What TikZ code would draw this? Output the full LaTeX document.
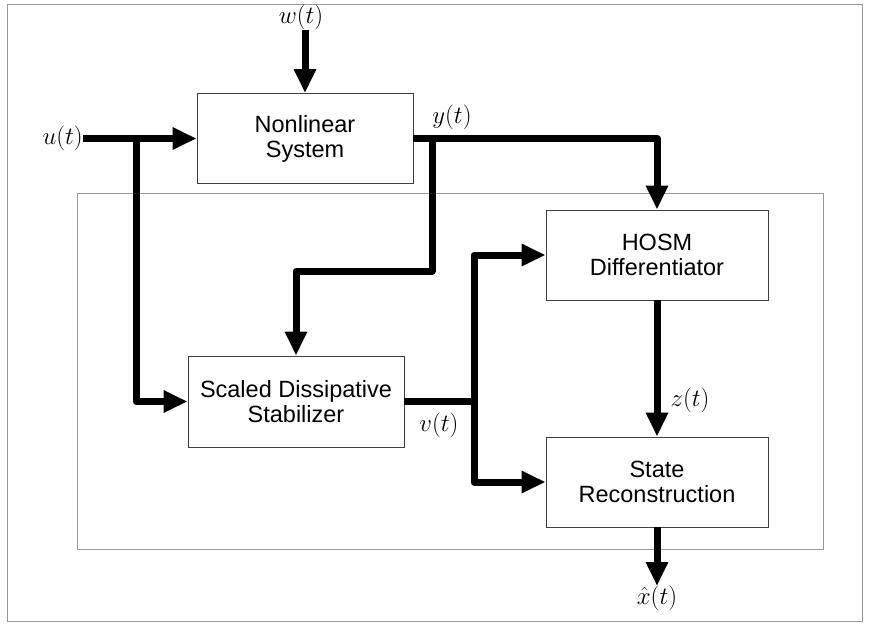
\documentclass[tikz,border=0pt]{standalone}
\usepackage{fontspec}
\setmainfont{Liberation Sans}
\usetikzlibrary{arrows.meta,positioning,calc}

\begin{document}
\begin{tikzpicture}[x=1pt,y=-1pt,>={Triangle[length=24pt,width=21pt]},
 blk/.style={draw=black!75,line width=0.9pt,align=center,minimum width=216pt,minimum height=90pt,font=\fontsize{23.5}{25}\selectfont,inner sep=0pt},
 sig/.style={line width=7pt,line join=round},
 lbl/.style={font=\fontsize{26}{28}\selectfont,inner sep=0pt}]
\useasboundingbox (0,0) rectangle (870,625);
\draw[black!40,line width=1pt] (7,4) rectangle (862,621);
\draw[black!40,line width=1pt] (77,193) rectangle (823,549);
\node[blk] (sys) at (305,138.5) {Nonlinear\\System};
\node[blk,minimum width=222pt] (hosm) at (657,255) {HOSM\\Differentiator};
\node[blk,minimum width=222pt] (rec) at (657,482) {State\\Reconstruction};
\node[blk,minimum height=91pt] (stab) at (296,401.5) {Scaled Dissipative\\Stabilizer};
\node[lbl,anchor=east] (u) at (83,138.5) {$u(t)$};
\node[lbl] (w) at (301,17) {$w(t)$};
\node[lbl] (y) at (452,117) {$y(t)$};
\node[lbl] (v) at (439,425) {$v(t)$};
\node[lbl] (z) at (690,400) {$z(t)$};
\node[lbl,anchor=north] (xh) at (657,586) {$\hat{x}(t)$};
\coordinate (ju) at (136,138.5); \coordinate (jy) at (432,138.5); \coordinate (yb) at (432,271); \coordinate (jv) at (474,401.5);
\draw[sig,->] (u) -- (sys); \draw[sig,->] (ju) |- (stab); \draw[sig,->] (w.south -| sys.north) -- (sys);
\draw[sig,->] (sys) -| (hosm); \draw[sig,->] (jy) -- (yb) -| (stab);
\draw[sig] (stab) -- (jv); \draw[sig,->] (jv) |- (hosm); \draw[sig,->] (jv) |- (rec);
\draw[sig,->] (hosm) -- (rec); \draw[sig,->] (rec) -- (xh);
\end{tikzpicture}
\end{document}
